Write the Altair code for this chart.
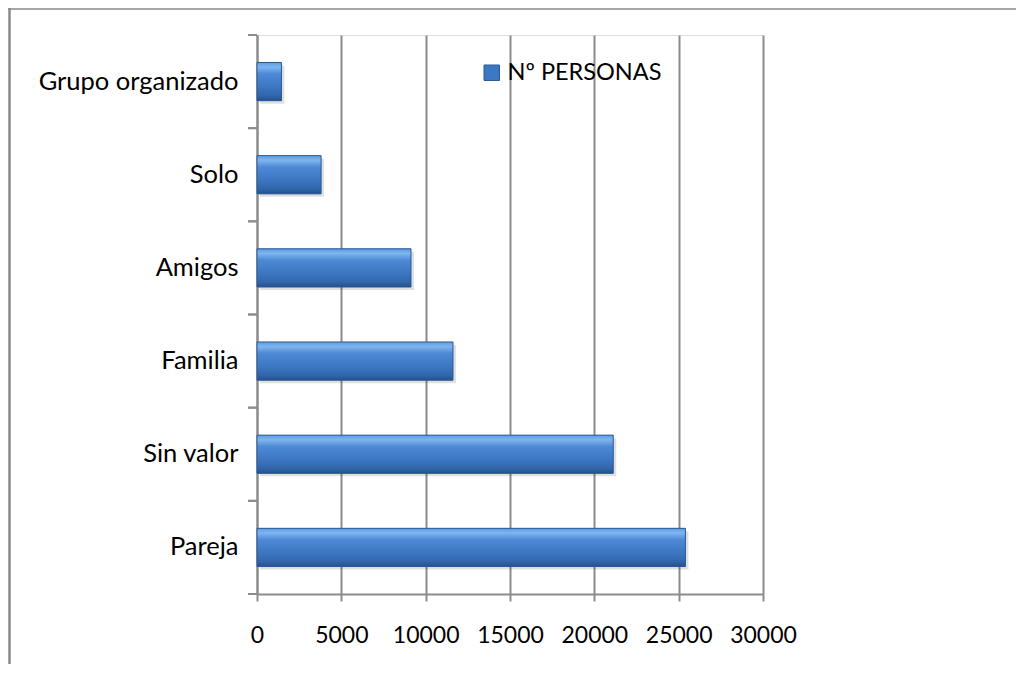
import altair as alt
import pandas as pd

categories = ["Grupo organizado", "Solo", "Amigos", "Familia", "Sin valor", "Pareja"]
values = [1450, 3800, 9130, 11620, 21120, 25400]
series_name = "Nº PERSONAS"
x_ticks = [0, 5000, 10000, 15000, 20000, 25000, 30000]

df = pd.DataFrame({"cat": categories, "val": values, "serie": [series_name] * len(categories)})

FONT = "Lato"
W, H = 506, 559
PL, PT, PR, PB = 249, 27, 253, 70
GRID = "#8c8c8c"

yscale = alt.Scale(domain=categories, paddingInner=0, paddingOuter=0)
xscale = alt.Scale(domain=[0, 30000], nice=False)

base = alt.Chart(df)

shadow = base.mark_bar(color="#000000", opacity=0.12, height={"band": 0.41}, xOffset=3, yOffset=3).encode(
    x=alt.X("val:Q", scale=xscale,
            axis=alt.Axis(values=x_ticks, title=None, grid=True, gridColor=GRID, gridWidth=2,
                          domainColor=GRID, domainWidth=2, tickColor=GRID, tickWidth=2, tickSize=7,
                          labelFont=FONT, labelFontSize=23, labelColor="#000", labelPadding=23,
                          labelFlush=False, format="d")),
    y=alt.Y("cat:N", scale=yscale, sort=categories,
            axis=alt.Axis(title=None, ticks=False, domainColor=GRID, domainWidth=2,
                          labelFont=FONT, labelFontSize=25.5, labelColor="#000", labelPadding=19,
                          labelLimit=400)),
)

bars = base.mark_bar(height={"band": 0.41}).encode(
    x=alt.X("val:Q", scale=xscale),
    y=alt.Y("cat:N", scale=yscale, sort=categories),
    color=alt.Color("serie:N", scale=alt.Scale(range=["#3d78c4"]),
                    legend=alt.Legend(title=None, orient="none", legendX=223, legendY=26,
                                      symbolType="square", symbolSize=240, symbolStrokeWidth=1,
                                      symbolStrokeColor="#2b5a96", labelFont=FONT, labelFontSize=23.5,
                                      labelColor="#000", labelOffset=4, padding=0)),
)

grad = {
    "gradient": "linear", "x1": 0, "y1": 0, "x2": 0, "y2": 1,
    "stops": [
        {"offset": 0, "color": "#5d9ce2"},
        {"offset": 0.12, "color": "#7fb5ef"},
        {"offset": 0.3, "color": "#4d89d5"},
        {"offset": 0.65, "color": "#3c76c1"},
        {"offset": 0.88, "color": "#3165a8"},
        {"offset": 1, "color": "#23508a"},
    ],
}
overlay = base.mark_bar(height={"band": 0.41}, fill=grad, stroke="#2b5a96", strokeWidth=1).encode(
    x=alt.X("val:Q", scale=xscale),
    y=alt.Y("cat:N", scale=yscale, sort=categories),
)

ticks_top = base.mark_rule(color=GRID, strokeWidth=2).encode(
    y=alt.Y("cat:N", scale=yscale, sort=categories, bandPosition=0),
    x=alt.value(-9), x2=alt.value(0),
)
ticks_bot = base.mark_rule(color=GRID, strokeWidth=2).encode(
    y=alt.Y("cat:N", scale=yscale, sort=categories, bandPosition=1),
    x=alt.value(-9), x2=alt.value(0),
)

frame_data = alt.Data(values=[{"k": 1}])
frame_left = alt.Chart(frame_data).mark_rule(color="#8a8a8a", strokeWidth=2.5).encode(
    x=alt.value(-PL + 1.5), y=alt.value(-PT), y2=alt.value(H + PB)
)
frame_top = alt.Chart(frame_data).mark_rule(color="#8a8a8a", strokeWidth=1.5).encode(
    x=alt.value(-PL), x2=alt.value(W + PR), y=alt.value(-PT + 1)
)

chart = alt.layer(shadow, bars, overlay, ticks_top, ticks_bot, frame_left, frame_top).properties(
    width=W, height=H,
    autosize=alt.AutoSizeParams(type="none"),
    padding={"left": PL, "top": PT, "right": PR, "bottom": PB},
).configure_view(stroke=None).configure(background="white")

chart.save("out.html", embed_options={"renderer": "svg", "actions": False})
